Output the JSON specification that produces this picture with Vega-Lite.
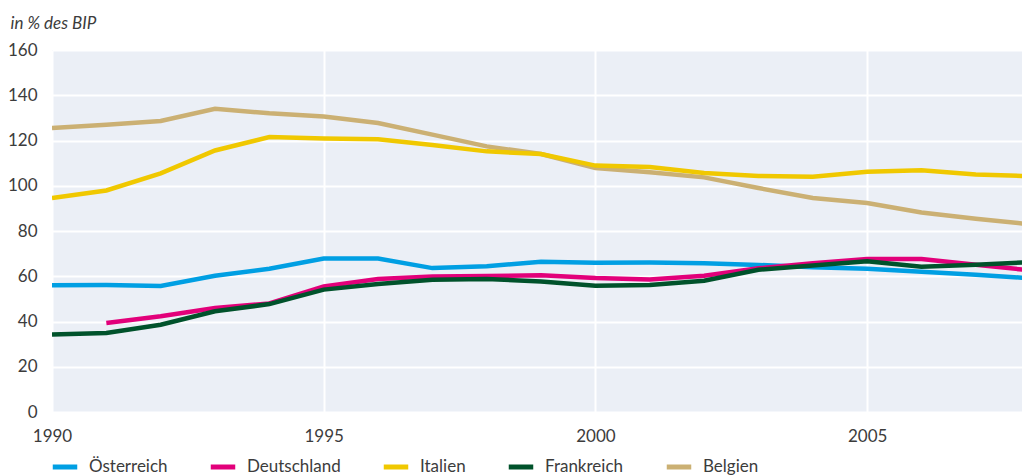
{
  "$schema": "https://vega.github.io/schema/vega-lite/v6.json",
  "width": 970,
  "height": 362,
  "autosize": {"type": "none"},
  "padding": {"left": 52, "top": 50, "right": 0, "bottom": 63},
  "background": "white",
  "config": {
    "view": {"fill": "#ebeff6", "stroke": null},
    "font": "Lato",
    "axis": {"labelFont": "Lato", "labelColor": "#3c3c3c", "labelFontSize": 17, "domain": false, "ticks": false, "gridColor": "white", "gridWidth": 2, "gridOpacity": 1},
    "legend": {"labelFont": "Lato", "labelColor": "#3c3c3c", "labelFontSize": 17, "padding": 0}
  },
  "data": {"values": [
    {"Land": "Belgien", "Jahr": 1990, "Wert": 125.5},
    {"Land": "Belgien", "Jahr": 1991, "Wert": 127.0},
    {"Land": "Belgien", "Jahr": 1992, "Wert": 128.6},
    {"Land": "Belgien", "Jahr": 1993, "Wert": 134.0},
    {"Land": "Belgien", "Jahr": 1994, "Wert": 132.0},
    {"Land": "Belgien", "Jahr": 1995, "Wert": 130.6},
    {"Land": "Belgien", "Jahr": 1996, "Wert": 127.7},
    {"Land": "Belgien", "Jahr": 1997, "Wert": 122.6},
    {"Land": "Belgien", "Jahr": 1998, "Wert": 117.4},
    {"Land": "Belgien", "Jahr": 1999, "Wert": 114.0},
    {"Land": "Belgien", "Jahr": 2000, "Wert": 107.8},
    {"Land": "Belgien", "Jahr": 2001, "Wert": 106.0},
    {"Land": "Belgien", "Jahr": 2002, "Wert": 103.7},
    {"Land": "Belgien", "Jahr": 2003, "Wert": 99.0},
    {"Land": "Belgien", "Jahr": 2004, "Wert": 94.6},
    {"Land": "Belgien", "Jahr": 2005, "Wert": 92.4},
    {"Land": "Belgien", "Jahr": 2006, "Wert": 88.2},
    {"Land": "Belgien", "Jahr": 2007, "Wert": 85.4},
    {"Land": "Belgien", "Jahr": 2008, "Wert": 83.0},
    {"Land": "Österreich", "Jahr": 1990, "Wert": 56.0},
    {"Land": "Österreich", "Jahr": 1991, "Wert": 56.1},
    {"Land": "Österreich", "Jahr": 1992, "Wert": 55.7},
    {"Land": "Österreich", "Jahr": 1993, "Wert": 60.2},
    {"Land": "Österreich", "Jahr": 1994, "Wert": 63.3},
    {"Land": "Österreich", "Jahr": 1995, "Wert": 67.8},
    {"Land": "Österreich", "Jahr": 1996, "Wert": 67.8},
    {"Land": "Österreich", "Jahr": 1997, "Wert": 63.6},
    {"Land": "Österreich", "Jahr": 1998, "Wert": 64.4},
    {"Land": "Österreich", "Jahr": 1999, "Wert": 66.4},
    {"Land": "Österreich", "Jahr": 2000, "Wert": 66.0},
    {"Land": "Österreich", "Jahr": 2001, "Wert": 66.1},
    {"Land": "Österreich", "Jahr": 2002, "Wert": 65.7},
    {"Land": "Österreich", "Jahr": 2003, "Wert": 65.0},
    {"Land": "Österreich", "Jahr": 2004, "Wert": 64.0},
    {"Land": "Österreich", "Jahr": 2005, "Wert": 63.3},
    {"Land": "Österreich", "Jahr": 2006, "Wert": 62.0},
    {"Land": "Österreich", "Jahr": 2007, "Wert": 60.7},
    {"Land": "Österreich", "Jahr": 2008, "Wert": 59.1},
    {"Land": "Deutschland", "Jahr": 1991, "Wert": 39.3},
    {"Land": "Deutschland", "Jahr": 1992, "Wert": 42.3},
    {"Land": "Deutschland", "Jahr": 1993, "Wert": 46.0},
    {"Land": "Deutschland", "Jahr": 1994, "Wert": 48.0},
    {"Land": "Deutschland", "Jahr": 1995, "Wert": 55.5},
    {"Land": "Deutschland", "Jahr": 1996, "Wert": 58.8},
    {"Land": "Deutschland", "Jahr": 1997, "Wert": 59.9},
    {"Land": "Deutschland", "Jahr": 1998, "Wert": 60.1},
    {"Land": "Deutschland", "Jahr": 1999, "Wert": 60.4},
    {"Land": "Deutschland", "Jahr": 2000, "Wert": 59.2},
    {"Land": "Deutschland", "Jahr": 2001, "Wert": 58.6},
    {"Land": "Deutschland", "Jahr": 2002, "Wert": 60.2},
    {"Land": "Deutschland", "Jahr": 2003, "Wert": 63.5},
    {"Land": "Deutschland", "Jahr": 2004, "Wert": 65.8},
    {"Land": "Deutschland", "Jahr": 2005, "Wert": 67.6},
    {"Land": "Deutschland", "Jahr": 2006, "Wert": 67.6},
    {"Land": "Deutschland", "Jahr": 2007, "Wert": 65.1},
    {"Land": "Deutschland", "Jahr": 2008, "Wert": 62.6},
    {"Land": "Italien", "Jahr": 1990, "Wert": 94.6},
    {"Land": "Italien", "Jahr": 1991, "Wert": 97.9},
    {"Land": "Italien", "Jahr": 1992, "Wert": 105.5},
    {"Land": "Italien", "Jahr": 1993, "Wert": 115.6},
    {"Land": "Italien", "Jahr": 1994, "Wert": 121.5},
    {"Land": "Italien", "Jahr": 1995, "Wert": 120.9},
    {"Land": "Italien", "Jahr": 1996, "Wert": 120.5},
    {"Land": "Italien", "Jahr": 1997, "Wert": 118.0},
    {"Land": "Italien", "Jahr": 1998, "Wert": 115.2},
    {"Land": "Italien", "Jahr": 1999, "Wert": 114.0},
    {"Land": "Italien", "Jahr": 2000, "Wert": 108.9},
    {"Land": "Italien", "Jahr": 2001, "Wert": 108.3},
    {"Land": "Italien", "Jahr": 2002, "Wert": 105.6},
    {"Land": "Italien", "Jahr": 2003, "Wert": 104.3},
    {"Land": "Italien", "Jahr": 2004, "Wert": 104.0},
    {"Land": "Italien", "Jahr": 2005, "Wert": 106.2},
    {"Land": "Italien", "Jahr": 2006, "Wert": 106.8},
    {"Land": "Italien", "Jahr": 2007, "Wert": 105.0},
    {"Land": "Italien", "Jahr": 2008, "Wert": 104.2},
    {"Land": "Frankreich", "Jahr": 1990, "Wert": 34.2},
    {"Land": "Frankreich", "Jahr": 1991, "Wert": 34.9},
    {"Land": "Frankreich", "Jahr": 1992, "Wert": 38.6},
    {"Land": "Frankreich", "Jahr": 1993, "Wert": 44.5},
    {"Land": "Frankreich", "Jahr": 1994, "Wert": 47.7},
    {"Land": "Frankreich", "Jahr": 1995, "Wert": 54.1},
    {"Land": "Frankreich", "Jahr": 1996, "Wert": 56.6},
    {"Land": "Frankreich", "Jahr": 1997, "Wert": 58.5},
    {"Land": "Frankreich", "Jahr": 1998, "Wert": 58.8},
    {"Land": "Frankreich", "Jahr": 1999, "Wert": 57.7},
    {"Land": "Frankreich", "Jahr": 2000, "Wert": 55.8},
    {"Land": "Frankreich", "Jahr": 2001, "Wert": 56.1},
    {"Land": "Frankreich", "Jahr": 2002, "Wert": 58.0},
    {"Land": "Frankreich", "Jahr": 2003, "Wert": 62.9},
    {"Land": "Frankreich", "Jahr": 2004, "Wert": 64.7},
    {"Land": "Frankreich", "Jahr": 2005, "Wert": 66.6},
    {"Land": "Frankreich", "Jahr": 2006, "Wert": 64.2},
    {"Land": "Frankreich", "Jahr": 2007, "Wert": 65.1},
    {"Land": "Frankreich", "Jahr": 2008, "Wert": 66.2}
  ]},
  "mark": {"type": "line", "strokeWidth": 4.5, "clip": true},
  "encoding": {
    "x": {
      "field": "Jahr", "type": "quantitative",
      "scale": {"domain": [1990, 2007.85], "nice": false, "zero": false},
      "axis": {"title": null, "values": [1990, 1995, 2000, 2005], "format": "d", "labelPadding": 16, "labelFlush": false}
    },
    "y": {
      "field": "Wert", "type": "quantitative",
      "scale": {"domain": [0, 160], "nice": false},
      "axis": {"values": [0, 20, 40, 60, 80, 100, 120, 140, 160], "labelPadding": 15, "title": "in % des BIP", "titleAngle": 0, "titleAlign": "left", "titleBaseline": "alphabetic", "titleX": -42, "titleY": -22, "titleFont": "Lato", "titleFontSize": 17, "titleFontStyle": "italic", "titleFontWeight": "normal", "titleColor": "#3c3c3c"}
    },
    "color": {
      "field": "Land", "type": "nominal",
      "scale": {"domain": ["Österreich", "Deutschland", "Italien", "Frankreich", "Belgien"], "range": ["#009fe3", "#e2007a", "#f0c800", "#00522b", "#cbb073"]},
      "legend": {"title": null, "orient": "none", "direction": "horizontal", "legendX": -2, "legendY": 402, "symbolType": "stroke", "symbolSize": 600, "symbolStrokeWidth": 5, "labelOffset": 9, "columnPadding": 32, "columns": 5}
    }
  }
}
